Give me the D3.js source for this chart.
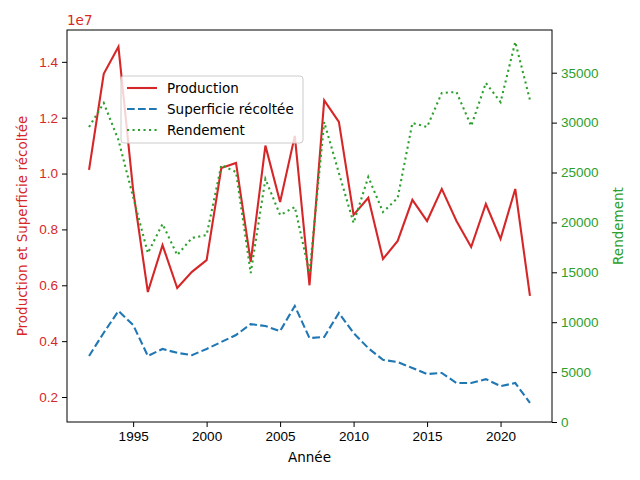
<!DOCTYPE html>
<html>
<head>
<meta charset="utf-8">
<script src="https://cdn.jsdelivr.net/npm/d3@7"></script>
<style>
  body { margin: 0; background: #fff; }
  svg { font-family: "DejaVu Sans", sans-serif; }
  .tick text { font-size: 13.5px; }
</style>
</head>
<body>
<svg width="640" height="480"></svg>
<script>
const years = d3.range(1992, 2023);
// values in units of 1e7
const production = [1.013, 1.357, 1.454, 0.941, 0.576, 0.744, 0.590, 0.648, 0.690, 1.020,
    1.038, 0.684, 1.100, 0.898, 1.135, 0.600, 1.262, 1.185, 0.852, 0.913,
    0.694, 0.759, 0.906, 0.830, 0.945, 0.830, 0.737, 0.891, 0.766, 0.945, 0.562];
const superficie = [0.347, 0.430, 0.508, 0.458, 0.347, 0.372, 0.358, 0.350, 0.372, 0.397,
    0.422, 0.461, 0.454, 0.436, 0.526, 0.411, 0.415, 0.501, 0.429, 0.375,
    0.333, 0.325, 0.304, 0.282, 0.286, 0.250, 0.250, 0.264, 0.239, 0.250, 0.179];
const rendement = [29560, 31960, 28260, 22545, 16930, 19840, 16730, 18440, 18740, 25750,
    25050, 14930, 24350, 20740, 21540, 14930, 30060, 24950, 19940, 24550,
    21040, 22440, 29960, 29560, 32970, 33070, 29660, 33970, 32060, 38080, 32260];
const xTicks = [1995, 2000, 2005, 2010, 2015, 2020];
const leftTicks = [0.2, 0.4, 0.6, 0.8, 1.0, 1.2, 1.4];
const rightTicks = [0, 5000, 10000, 15000, 20000, 25000, 30000, 35000];

const red = "#d62728", blue = "#1f77b4", green = "#2ca02c";
const svg = d3.select("svg");
const mLeft = 67, mRight = 552, mTop = 30, mBottom = 422;

const x = d3.scaleLinear().domain([1990.5, 2023.5]).range([mLeft, mRight]);
const yL = d3.scaleLinear().domain([0.1105, 1.514]).range([mBottom, mTop]);
const yR = d3.scaleLinear().domain([0, 39280]).range([mBottom, mTop]);

function lineFor(y, data) {
    return d3.line().x((d, i) => x(years[i])).y(d => y(d))(data);
}

svg.append("path").attr("d", lineFor(yL, production))
    .attr("fill", "none").attr("stroke", red).attr("stroke-width", 2.1);
svg.append("path").attr("d", lineFor(yL, superficie))
    .attr("fill", "none").attr("stroke", blue).attr("stroke-width", 2.1)
    .attr("stroke-dasharray", "7.7,3.3");
svg.append("path").attr("d", lineFor(yR, rendement))
    .attr("fill", "none").attr("stroke", green).attr("stroke-width", 2.1)
    .attr("stroke-dasharray", "2.1,3.4");

// frame
svg.append("rect").attr("x", mLeft).attr("y", mTop)
    .attr("width", mRight - mLeft).attr("height", mBottom - mTop)
    .attr("fill", "none").attr("stroke", "#000").attr("stroke-width", 1);

const xAxis = svg.append("g").attr("transform", `translate(0,${mBottom})`)
    .call(d3.axisBottom(x).tickValues(xTicks).tickFormat(d3.format("d")).tickSize(5).tickPadding(4));
xAxis.select(".domain").remove();
xAxis.selectAll("text").attr("fill", "#000");

const lAxis = svg.append("g").attr("transform", `translate(${mLeft},0)`)
    .call(d3.axisLeft(yL).tickValues(leftTicks).tickFormat(d3.format(".1f")).tickSize(5).tickPadding(4));
lAxis.select(".domain").remove();
lAxis.selectAll("line").attr("stroke", "#000");
lAxis.selectAll("text").attr("fill", red);

const rAxis = svg.append("g").attr("transform", `translate(${mRight},0)`)
    .call(d3.axisRight(yR).tickValues(rightTicks).tickFormat(d3.format("d")).tickSize(5).tickPadding(4));
rAxis.select(".domain").remove();
rAxis.selectAll("line").attr("stroke", "#000");
rAxis.selectAll("text").attr("fill", green);

svg.append("text").attr("x", mLeft).attr("y", 25).attr("fill", red)
    .attr("font-size", 13.5).text("1e7");

svg.append("text").attr("x", (mLeft + mRight) / 2).attr("y", 462)
    .attr("text-anchor", "middle").attr("font-size", 13.5).text("Année");
svg.append("text").attr("transform", `translate(27,${(mTop + mBottom) / 2}) rotate(-90)`)
    .attr("text-anchor", "middle").attr("font-size", 13.5).attr("fill", red)
    .text("Production et Superficie récoltée");
svg.append("text").attr("transform", `translate(623,${(mTop + mBottom) / 2}) rotate(-90)`)
    .attr("text-anchor", "middle").attr("font-size", 13.5).attr("fill", green)
    .text("Rendement");

// legend
const legend = svg.append("g").attr("transform", "translate(121,76)");
legend.append("rect").attr("width", 182).attr("height", 67).attr("rx", 3)
    .attr("fill", "#fff").attr("fill-opacity", 0.8).attr("stroke", "#ccc");
const items = [
    { name: "Production", color: red, dash: null },
    { name: "Superficie récoltée", color: blue, dash: "7.7,3.3" },
    { name: "Rendement", color: green, dash: "2.1,3.4" }
];
items.forEach((d, i) => {
    const yy = 12 + i * 21;
    legend.append("line").attr("x1", 6).attr("x2", 36).attr("y1", yy).attr("y2", yy)
        .attr("stroke", d.color).attr("stroke-width", 2.1)
        .attr("stroke-dasharray", d.dash);
    legend.append("text").attr("x", 46).attr("y", yy + 5).attr("font-size", 13.5)
        .text(d.name);
});
</script>
</body>
</html>
